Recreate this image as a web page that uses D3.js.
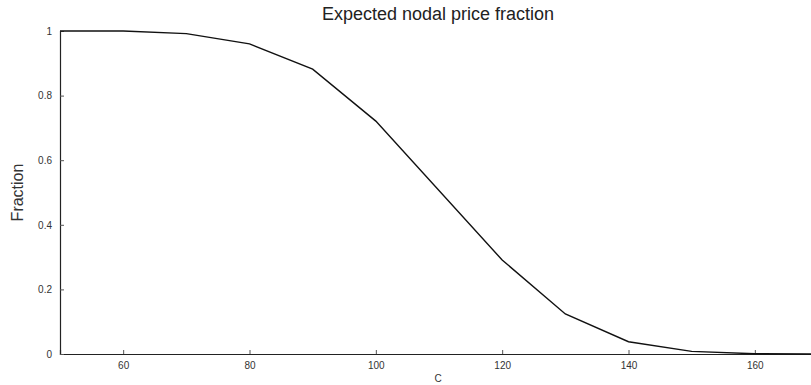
<!DOCTYPE html>
<html>
<head>
<meta charset="utf-8">
<script src="https://cdn.jsdelivr.net/npm/d3@7"></script>
<style>
  body { margin: 0; background: #fff; }
  svg { display: block; font-family: "Liberation Sans", Arial, sans-serif; }
</style>
</head>
<body>
<div id="chart-area"></div>
<script>
// data
const cValues = [50, 60, 70, 80, 90, 100, 120, 130, 140, 150, 160, 170];
const fractions = [1.0, 1.0, 0.992, 0.96, 0.882, 0.721, 0.291, 0.124, 0.038, 0.008, 0.001, 0.0];
const xTicks = [60, 80, 100, 120, 140, 160];
const yTicks = [0, 0.2, 0.4, 0.6, 0.8, 1];

const MARGIN = { LEFT: 60, RIGHT: -7, TOP: 31, BOTTOM: 31 };
const W = 811, H = 385;
const WIDTH = W - MARGIN.LEFT - MARGIN.RIGHT;
const HEIGHT = H - MARGIN.TOP - MARGIN.BOTTOM;

const svg = d3.select('#chart-area').append('svg')
    .attr('width', W)
    .attr('height', H);

const g = svg.append("g")
    .attr("transform", `translate(${MARGIN.LEFT}, ${MARGIN.TOP})`);

const x = d3.scaleLinear().domain([50, 170]).range([0, WIDTH]);
const y = d3.scaleLinear().domain([0, 1]).range([HEIGHT, 0]);

// x axis (ticks point inward)
const xAxis = g.append("g")
    .attr("transform", `translate(0, ${HEIGHT})`)
    .call(d3.axisBottom(x).tickValues(xTicks).tickSize(-4).tickPadding(8).tickFormat(d3.format("d")));
xAxis.select(".domain").attr("stroke", "#222").attr("stroke-width", 1.2);
xAxis.selectAll(".tick line").attr("stroke", "#555");
xAxis.selectAll("text").attr("font-size", "10px").attr("fill", "#333")
    .attr("font-family", "Liberation Sans, Arial, sans-serif");

// y axis
const yAxis = g.append("g")
    .call(d3.axisLeft(y).tickValues(yTicks).tickSize(-4).tickPadding(8).tickFormat(d3.format("")));
yAxis.select(".domain").attr("stroke", "#222").attr("stroke-width", 1.2);
yAxis.selectAll(".tick line").attr("stroke", "#555");
yAxis.selectAll("text").attr("font-size", "10px").attr("fill", "#333")
    .attr("font-family", "Liberation Sans, Arial, sans-serif");

// line
const line = d3.line()
    .x((d, i) => x(cValues[i]))
    .y(d => y(d));

g.append("path")
    .datum(fractions)
    .attr("fill", "none")
    .attr("stroke", "#111")
    .attr("stroke-width", 1.4)
    .attr("d", line);

// title
svg.append("text")
    .attr("x", 438)
    .attr("y", 20)
    .attr("text-anchor", "middle")
    .attr("font-size", "18px")
    .attr("fill", "#222")
    .text("Expected nodal price fraction");

// x label
svg.append("text")
    .attr("x", 438)
    .attr("y", 382)
    .attr("text-anchor", "middle")
    .attr("font-size", "10px")
    .attr("fill", "#333")
    .text("C");

// y label
svg.append("text")
    .attr("transform", `translate(23, ${MARGIN.TOP + HEIGHT / 2}) rotate(-90)`)
    .attr("text-anchor", "middle")
    .attr("font-size", "16px")
    .attr("fill", "#333")
    .text("Fraction");
</script>
</body>
</html>
